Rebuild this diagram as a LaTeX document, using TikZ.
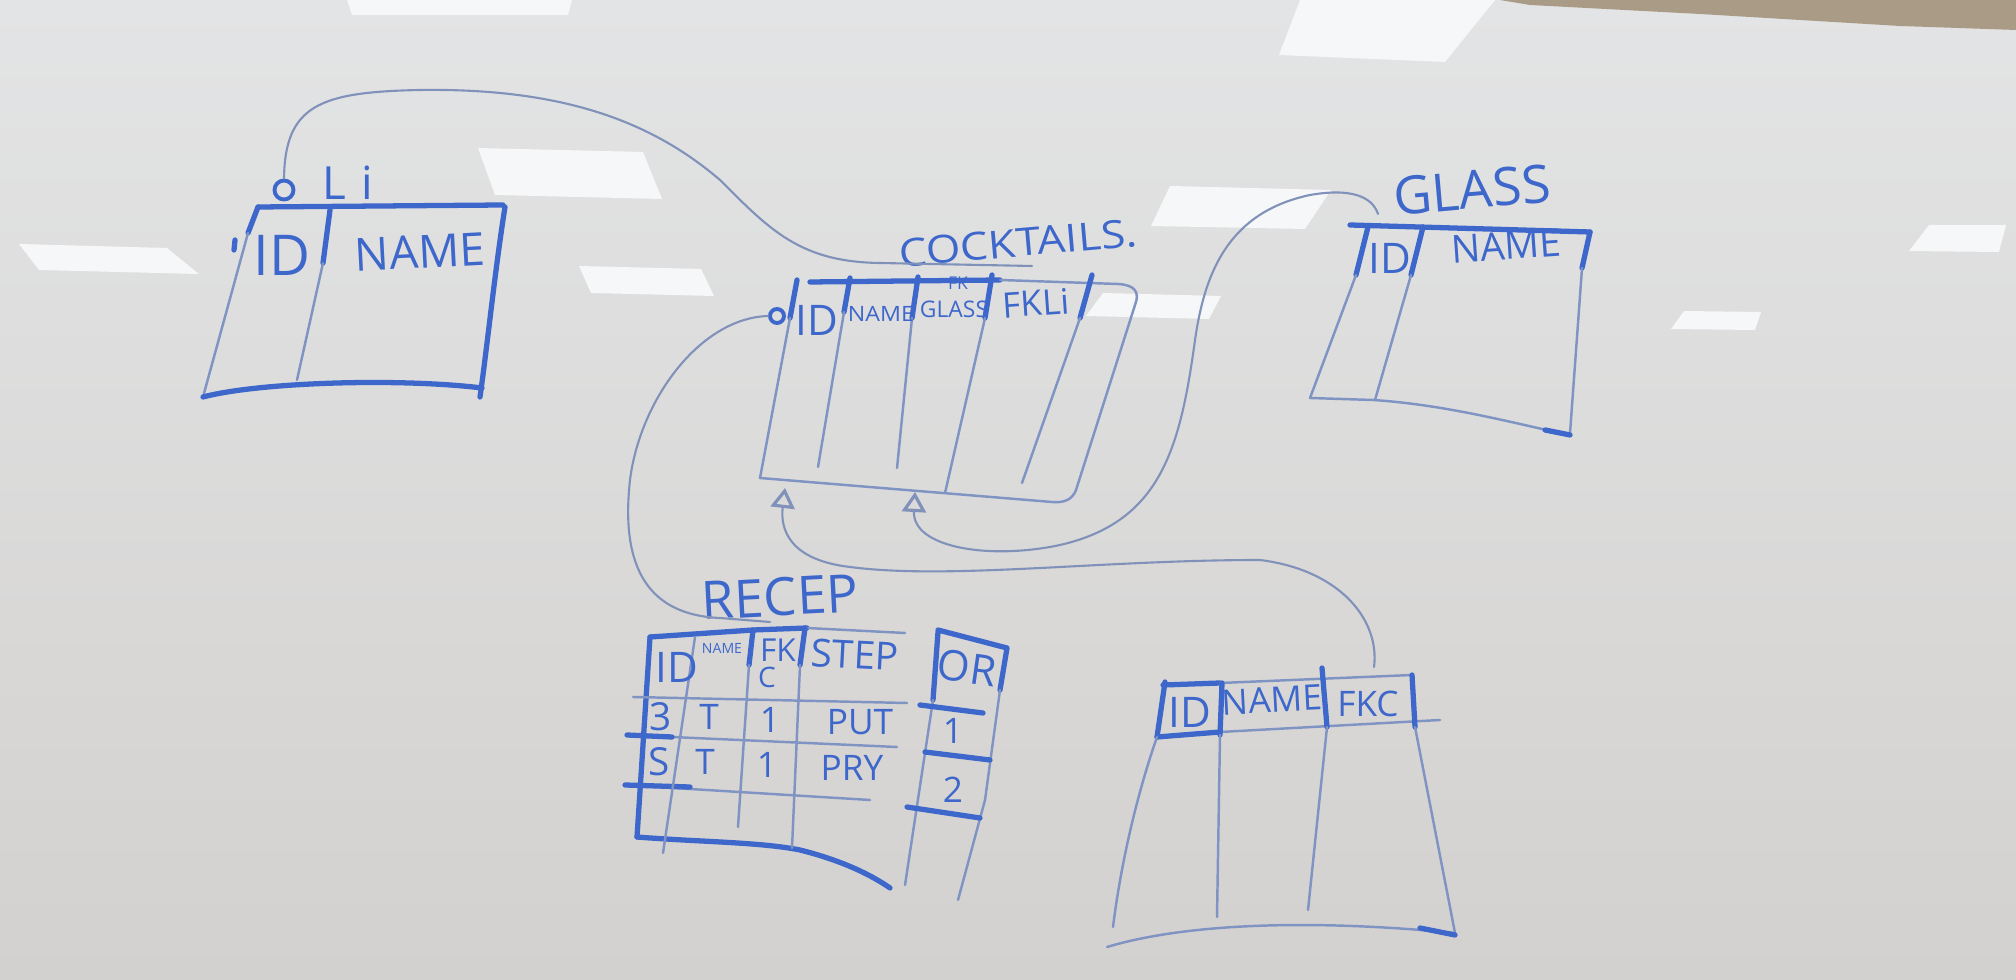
\documentclass[tikz,border=0pt]{standalone}
\usepackage{fontspec}
\setmainfont{Open Sans}
\usepackage{xcolor}
\usetikzlibrary{arrows.meta, positioning, calc}

\definecolor{board}{HTML}{DAD9D7}
\definecolor{boardlight}{HTML}{E3E4E5}
\definecolor{boarddark}{HTML}{D3D1CF}
\definecolor{boardedge}{HTML}{A99B85}
\definecolor{glare}{HTML}{F6F7F8}
\definecolor{ink}{HTML}{3D67CB}
\definecolor{inkthin}{HTML}{8094C4}

\begin{document}
\begin{tikzpicture}[x=0.01cm, y=-0.01cm,
        % Pen strokes
        marker/.style={draw=ink, line width=1.5pt, line cap=round, line join=round},
        pen/.style={draw=inkthin, line width=0.7pt, line cap=round, line join=round},
        link/.style={draw=inkthin!85!gray, line width=0.6pt, line cap=round},
        fk_arrow/.style={link, -{Triangle[open, length=0.2cm, width=0.24cm, line width=0.9pt]}},
        opt_circle/.style={circle, draw=ink, line width=1.1pt, minimum size=0.15cm, inner sep=0pt},
        % Text written on the board
        head_text/.style={text=ink, inner sep=0pt, font=\fontsize{13}{13}\selectfont},
        cell_text/.style={text=ink, inner sep=0pt, font=\fontsize{10}{10}\selectfont},
        tiny_text/.style={text=ink, inner sep=0pt, font=\fontsize{6}{6}\selectfont},
        title_text/.style={text=ink, inner sep=0pt, font=\fontsize{11}{11}\selectfont},
        glare_patch/.style={fill=glare, draw=none}
    ]

    % =========================================================================
    % BOARD
    % =========================================================================
    \shade[top color=boardlight, bottom color=boarddark] (0,0) rectangle (2016,980);
    \fill[boardedge] (1500,0) -- (2016,0) -- (2016,30) -- (1900,26) -- (1700,14) -- (1530,5) -- cycle;
    \useasboundingbox (0,0) rectangle (2016,980);

    % reflections of the ceiling lights
    \fill[glare_patch] (347,0) -- (572,0) -- (568,15) -- (352,15) -- cycle;
    \fill[glare_patch] (1300,0) -- (1495,0) -- (1445,62) -- (1279,55) -- cycle;
    \fill[glare_patch] (478,148) -- (643,152) -- (662,199) -- (495,195) -- cycle;
    \fill[glare_patch] (19,244) -- (167,248) -- (199,274) -- (39,270) -- cycle;
    \fill[glare_patch] (579,266) -- (701,269) -- (714,296) -- (591,293) -- cycle;
    \fill[glare_patch] (1170,186) -- (1331,190) -- (1305,229) -- (1151,226) -- cycle;
    \fill[glare_patch] (1103,293) -- (1221,296) -- (1209,319) -- (1086,316) -- cycle;
    \fill[glare_patch] (1929,225) -- (2006,225) -- (1999,252) -- (1909,251) -- cycle;
    \fill[glare_patch] (1684,311) -- (1761,312) -- (1755,330) -- (1671,329) -- cycle;

    % =========================================================================
    % TABLE Li
    % =========================================================================
    \node (li_title) [head_text] at (348,183) {L\,\,i};
    \node (li_o) [opt_circle, minimum size=0.19cm] at (284,190) {};

    \draw[marker] (258,207) -- (503,205);
    \draw[marker] (258,207) -- (248,233);
    \draw[marker] (235,240) -- (234,250);
    \draw[pen] (248,233) -- (203,397);
    \draw[marker] (203,397) .. controls (260,382) and (400,378) .. (482,388);
    \draw[marker] (505,207) .. controls (495,270) and (488,340) .. (480,397);
    \draw[marker] (330,210) -- (323,263);
    \draw[pen] (323,263) -- (297,380);

    \node (li_id) [head_text, font=\fontsize{16}{16}\selectfont] at (282,255) {ID};
    \node (li_name) [head_text, rotate=3] at (420,252) {NAME};

    % =========================================================================
    % TABLE COCKTAILS
    % =========================================================================
    \node (ck_title) [title_text, rotate=5, xscale=1.15] at (1018,243) {COCKTAILS.};
    \node (ck_o) [opt_circle, minimum size=0.14cm] at (777,316) {};

    \draw[marker] (810,282) -- (1000,280);
    \draw[pen] (1000,280) -- (1118,284) .. controls (1135,285) and (1140,292) .. (1135,305)
        -- (1076,490) .. controls (1072,500) and (1064,503) .. (1052,502) -- (760,478);
    \draw[marker] (797,280) -- (790,318);
    \draw[pen] (790,318) -- (760,478);
    % column dividers
    \draw[marker] (850,278) -- (844,312);
    \draw[pen] (844,312) -- (818,467);
    \draw[marker] (918,277) -- (912,318);
    \draw[pen] (912,318) -- (897,468);
    \draw[marker] (992,275) -- (985,318);
    \draw[pen] (985,318) -- (945,493);
    \draw[marker] (1092,275) -- (1080,318);
    \draw[pen] (1080,318) -- (1022,483);

    \node (ck_id) [cell_text, font=\fontsize{12}{12}\selectfont] at (817,320) {ID};
    \node (ck_name) [tiny_text, xscale=1.1] at (881,314) {NAME};
    \node (ck_fk) [tiny_text, font=\fontsize{5}{5}\selectfont] at (958,283) {FK};
    \node (ck_glass) [tiny_text, font=\fontsize{6.5}{6.5}\selectfont] at (954,309) {GLASS};
    \node (ck_fkli) [cell_text, rotate=4] at (1036,303) {FKLi};

    % =========================================================================
    % TABLE GLASS
    % =========================================================================
    \node (gl_title) [title_text, font=\fontsize{15}{15}\selectfont, rotate=5] at (1472,190) {GLASS};

    \draw[marker] (1350,225) -- (1590,232);
    \draw[marker] (1368,227) -- (1356,275);
    \draw[pen] (1356,275) -- (1310,398) -- (1373,400) .. controls (1450,405) and (1520,425) .. (1570,435);
    \draw[marker] (1590,232) -- (1582,268);
    \draw[pen] (1582,268) -- (1570,433);
    \draw[marker] (1545,430) -- (1570,435);
    \draw[marker] (1423,227) -- (1411,275);
    \draw[pen] (1411,275) -- (1375,400);

    \node (gl_id) [cell_text, font=\fontsize{12}{12}\selectfont] at (1390,258) {ID};
    \node (gl_name) [cell_text, font=\fontsize{11}{11}\selectfont, rotate=4] at (1506,246) {NAME};

    % =========================================================================
    % TABLE RECEP
    % =========================================================================
    \node (re_title) [title_text, font=\fontsize{15}{15}\selectfont, rotate=3] at (780,597) {RECEP};

    \draw[marker] (650,637) -- (753,630) -- (807,628);
    \draw[pen] (807,628) -- (905,633);
    \draw[marker] (650,637) -- (637,837);
    \draw[marker] (637,837) .. controls (700,842) and (760,842) .. (800,850)
        .. controls (840,860) and (870,874) .. (890,888);
    % rows
    \draw[pen] (633,697) -- (907,703);
    \draw[pen] (627,735) -- (897,747);
    \draw[marker] (627,735) -- (672,737);
    \draw[pen] (625,785) -- (870,800);
    \draw[marker] (625,785) -- (690,787);
    % columns
    \draw[pen] (695,637) -- (663,853);
    \draw[marker] (753,630) -- (749,665);
    \draw[pen] (749,665) -- (738,827);
    \draw[marker] (805,628) -- (800,665);
    \draw[pen] (800,665) -- (792,848);
    % order column
    \draw[marker] (938,630) -- (1007,648) -- (1000,690);
    \draw[marker] (938,632) -- (933,700);
    \draw[pen] (933,700) -- (905,885);
    \draw[pen] (1000,690) -- (985,800) -- (958,900);
    \draw[marker] (920,705) -- (983,713);
    \draw[marker] (925,752) -- (990,760);
    \draw[marker] (907,807) -- (980,818);

    \node (re_id) [head_text, font=\fontsize{12}{12}\selectfont] at (677,667) {ID};
    \node (re_name) [tiny_text, font=\fontsize{4}{4}\selectfont] at (722,648) {NAME};
    \node (re_fk) [cell_text, font=\fontsize{9}{9}\selectfont] at (778,650) {FK};
    \node (re_c) [cell_text, font=\fontsize{8}{8}\selectfont] at (767,677) {C};
    \node (re_step) [cell_text, font=\fontsize{11}{11}\selectfont, rotate=-3] at (855,655) {STEP};
    \node (re_or) [cell_text, font=\fontsize{12}{12}\selectfont, rotate=-8] at (967,668) {OR};

    \node (re_r1_id) [cell_text, font=\fontsize{11}{11}\selectfont] at (661,717) {3};
    \node (re_r1_name) [cell_text] at (709,717) {T};
    \node (re_r1_fk) [cell_text] at (770,720) {1};
    \node (re_r1_step) [cell_text] at (860,722) {PUT};
    \node (re_r1_or) [cell_text] at (953,731) {1};

    \node (re_r2_id) [cell_text, font=\fontsize{11}{11}\selectfont] at (659,762) {S};
    \node (re_r2_name) [cell_text] at (705,762) {T};
    \node (re_r2_fk) [cell_text] at (767,765) {1};
    \node (re_r2_step) [cell_text] at (852,768) {PRY};
    \node (re_r2_or) [cell_text] at (953,790) {2};

    % =========================================================================
    % TABLE WITH FKC (bottom right)
    % =========================================================================
    \draw[marker] (1163,685) -- (1220,683);
    \draw[pen] (1220,683) -- (1412,675);
    \draw[marker] (1157,737) -- (1220,732);
    \draw[pen] (1220,732) -- (1440,720);
    \draw[marker] (1165,682) -- (1157,737);
    \draw[pen] (1157,737) .. controls (1135,800) and (1120,870) .. (1113,927);
    \draw[marker] (1412,675) -- (1415,727);
    \draw[pen] (1415,727) -- (1455,933);
    \draw[pen] (1107,947) .. controls (1180,925) and (1300,918) .. (1455,933);
    \draw[marker] (1420,928) -- (1455,935);
    \draw[marker] (1222,683) -- (1220,735);
    \draw[pen] (1220,735) -- (1217,917);
    \draw[marker] (1322,668) -- (1327,727);
    \draw[pen] (1327,727) -- (1308,910);

    \node (fk_id) [head_text, font=\fontsize{12}{12}\selectfont] at (1190,712) {ID};
    \node (fk_name) [cell_text, rotate=3] at (1272,700) {NAME};
    \node (fk_fkc) [cell_text] at (1368,704) {FKC};

    % =========================================================================
    % LINKS BETWEEN TABLES
    % =========================================================================
    \coordinate (ck_under) at (1032,266);
    \coordinate (gl_hook) at (1378,214);
    \coordinate (re_under) at (770,622);
    \coordinate (fk_top) at (1374,667);
    \coordinate (ck_arrow_a) at (785,488);
    \coordinate (ck_arrow_b) at (915,492);

    % Li -- COCKTAILS (ends as the underline of the title)
    \draw[link] (li_o.north) .. controls (285,105) and (320,92) .. (420,90)
        .. controls (560,88) and (650,120) .. (720,180)
        .. controls (770,230) and (800,262) .. (880,263) -- (ck_under);

    % GLASS -> COCKTAILS
    \draw[fk_arrow] (gl_hook) .. controls (1372,196) and (1350,188) .. (1310,195)
        .. controls (1230,212) and (1205,270) .. (1195,340)
        .. controls (1180,450) and (1160,522) .. (1060,545)
        .. controls (990,560) and (912,548) .. (ck_arrow_b);

    % RECEP -- COCKTAILS
    \draw[link] (ck_o.west) .. controls (700,318) and (640,400) .. (630,480)
        .. controls (620,570) and (650,615) .. (720,618) -- (re_under);

    % FKC -> COCKTAILS
    \draw[fk_arrow] (fk_top) .. controls (1380,620) and (1340,570) .. (1260,560)
        .. controls (1100,560) and (950,580) .. (850,567)
        .. controls (790,560) and (780,530) .. (ck_arrow_a);

\end{tikzpicture}
\end{document}
